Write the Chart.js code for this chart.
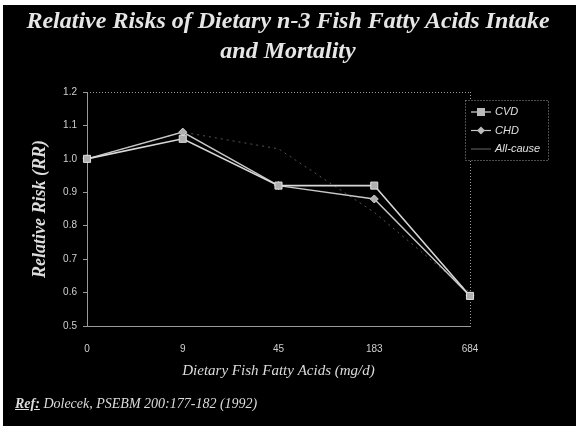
<!DOCTYPE html>
<html>
<head>
<meta charset="utf-8">
<script src="https://cdn.jsdelivr.net/npm/chart.js@4/dist/chart.umd.min.js"></script>
<style>
  html, body { margin: 0; padding: 0; background: #fff; }
  #wrap { position: absolute; left: 3px; top: 5px; width: 573px; height: 421px; background: #000; }
  #cv { position: absolute; left: 0; top: 0; }
  .ttl { position: absolute; left: 0; width: 576px; text-align: center; color: #e6e6e6;
         font-family: "Liberation Serif", "DejaVu Serif", serif; font-weight: bold; font-style: italic; font-size: 24px; line-height: 28px; white-space: nowrap; }
  #ref { position: absolute; left: 15px; top: 396px; color: #dcdcdc; font-family: "Liberation Serif", serif;
         font-style: italic; font-size: 14px; white-space: nowrap; }
  #ref u { font-weight: bold; }
</style>
</head>
<body>
<div id="wrap"></div>
<canvas id="cv" width="576" height="426"></canvas>
<div class="ttl" style="top:6px">Relative Risks of Dietary n-3 Fish Fatty Acids Intake</div>
<div class="ttl" style="top:36px">and Mortality</div>
<div id="ref"><u>Ref:</u> Dolecek, PSEBM 200:177-182 (1992)</div>
<script>
const categories = ["0", "9", "45", "183", "684"];
const seriesNames = ["CVD", "CHD", "All-cause"];
const cvd = [1.00, 1.06, 0.92, 0.92, 0.59];
const chd = [1.00, 1.08, 0.92, 0.88, 0.59];
const allCause = [1.00, 1.08, 1.03, 0.84, 0.60];
const yTicks = [0.5, 0.6, 0.7, 0.8, 0.9, 1.0, 1.1, 1.2];

const frame = {
  id: 'frame',
  beforeDatasetsDraw(chart) {
    const {ctx, chartArea: a} = chart;
    ctx.save();
    ctx.strokeStyle = '#9a9a9a';
    ctx.lineWidth = 1;
    ctx.setLineDash([1, 2]);
    ctx.beginPath();
    ctx.moveTo(a.left, a.top + 0.5); ctx.lineTo(a.right, a.top + 0.5);
    ctx.moveTo(a.right + 0.5, a.top); ctx.lineTo(a.right + 0.5, a.bottom);
    ctx.stroke();
    ctx.restore();
  }
};

const legendBox = {
  id: 'legendBox',
  afterDraw(chart) {
    const {ctx} = chart;
    const x0 = 465, y0 = 100, w = 83, h = 60;
    ctx.save();
    ctx.strokeStyle = '#9a9a9a';
    ctx.setLineDash([1, 2]);
    ctx.strokeRect(x0 + 0.5, y0 + 0.5, w, h);
    ctx.setLineDash([]);
    ctx.fillStyle = '#000';
    ctx.fillRect(x0 + 1, y0 + 1, w - 1, h - 1);
    ctx.font = 'italic 11px "Liberation Sans", Arial, sans-serif';
    ctx.textBaseline = 'middle';
    chart.data.datasets.forEach((ds, i) => {
      const y = y0 + 12 + i * 18.5;
      ctx.strokeStyle = ds.borderColor;
      ctx.lineWidth = 1.2;
      ctx.beginPath(); ctx.moveTo(x0 + 6, y); ctx.lineTo(x0 + 26, y); ctx.stroke();
      if (ds.pointStyle === 'rect') {
        ctx.fillStyle = '#bbb'; ctx.fillRect(x0 + 12, y - 4, 8, 8);
      } else if (ds.pointStyle === 'rectRot') {
        ctx.fillStyle = '#bbb';
        ctx.beginPath(); ctx.moveTo(x0 + 16, y - 4); ctx.lineTo(x0 + 20, y); ctx.lineTo(x0 + 16, y + 4); ctx.lineTo(x0 + 12, y); ctx.closePath(); ctx.fill();
      }
      ctx.fillStyle = '#e0e0e0';
      ctx.fillText(ds.label, x0 + 30, y);
    });
    ctx.restore();
  }
};

new Chart(document.getElementById('cv'), {
  type: 'line',
  data: {
    labels: categories,
    datasets: [
      { label: seriesNames[0], data: cvd, borderColor: '#d8d8d8', borderWidth: 1.6, pointStyle: 'rect',
        pointRadius: 5, pointBackgroundColor: '#b0b0b0', pointBorderColor: '#e0e0e0', pointBorderWidth: 1, tension: 0 },
      { label: seriesNames[1], data: chd, borderColor: '#c8c8c8', borderWidth: 1.4, pointStyle: 'rectRot',
        pointRadius: 4, pointBackgroundColor: '#b0b0b0', pointBorderColor: '#d0d0d0', pointBorderWidth: 1, tension: 0 },
      { label: seriesNames[2], data: allCause, borderColor: '#555555', borderWidth: 1, borderDash: [2, 4], pointStyle: 'circle',
        pointRadius: 0, tension: 0 }
    ]
  },
  options: {
    responsive: false,
    animation: false,
    layout: { padding: { left: 30, top: 92, right: 106, bottom: 46 } },
    plugins: { legend: { display: false }, tooltip: { enabled: false } },
    scales: {
      x: {
        offset: false,
        grid: { display: false, drawTicks: false },
        border: { display: true, color: '#9a9a9a', dash: [1, 3] },
        ticks: { color: '#cfcfcf', font: { family: '"Liberation Sans", sans-serif', size: 10 }, padding: 17, maxRotation: 0 },
        title: { display: true, text: 'Dietary Fish Fatty Acids (mg/d)', color: '#dcdcdc',
                 font: { family: '"Liberation Serif", serif', style: 'italic', size: 15 }, padding: 0 },
        afterFit(s) { s.height = 54; }
      },
      y: {
        min: 0.5, max: 1.2,
        afterBuildTicks(s) { s.ticks = yTicks.map(v => ({ value: v })); },
        grid: { display: true, drawOnChartArea: false, drawTicks: true, tickLength: 4, color: '#9a9a9a' },
        border: { display: true, color: '#9a9a9a', dash: [1, 2] },
        ticks: { color: '#cfcfcf', font: { family: '"Liberation Sans", sans-serif', size: 10 }, padding: 6,
                 callback: (v) => Number(v).toFixed(1) },
        title: { display: true, text: 'Relative Risk (RR)', color: '#dcdcdc',
                 font: { family: '"Liberation Serif", serif', style: 'italic', weight: 'bold', size: 18 }, padding: 0 },
        afterFit(s) { s.width = 57; }
      }
    }
  },
  plugins: [frame, legendBox]
});
</script>
</body>
</html>
